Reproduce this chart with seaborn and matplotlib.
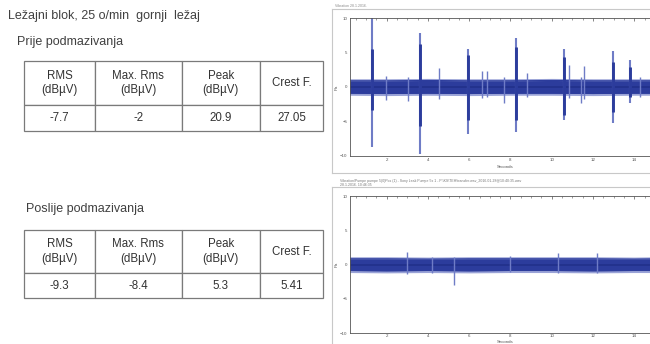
import numpy as np
import pandas as pd
import matplotlib
matplotlib.use('Agg')
import matplotlib.pyplot as plt
import seaborn as sns
from matplotlib.ticker import MultipleLocator

# table data
col_labels = ['RMS\n(dBµV)', 'Max. Rms\n(dBµV)', 'Peak\n(dBµV)', 'Crest F.']
before_vals = ['-7.7', '-2', '20.9', '27.05']
after_vals = ['-9.3', '-8.4', '5.3', '5.41']

# signal before greasing: noise band knots (s, amplitude)
band_t = [0.2, 2, 4, 6, 8, 10, 12, 14, 15.3]
before_band_hi = [0.9, 0.9, 0.95, 0.9, 0.9, 0.95, 0.9, 0.9, 0.9]
before_band_lo = [-0.9, -0.95, -0.9, -0.95, -0.9, -0.9, -0.95, -0.9, -0.9]
# impacts: time, peak max/min, dense core max/min
before_spike_t = [1.29, 3.63, 5.94, 8.28, 10.62, 12.98, 13.78]
before_spike_hi = [10.0, 7.8, 5.6, 7.2, 5.5, 5.3, 3.9]
before_spike_lo = [-8.8, -9.7, -6.9, -6.5, -4.8, -5.2, -2.3]
before_core_hi = [5.6, 6.3, 4.6, 5.8, 4.4, 3.7, 2.9]
before_core_lo = [-3.3, -5.7, -4.8, -4.8, -4.1, -3.6, -1.4]
# small bursts
before_small_t = [1.98, 3.03, 4.53, 6.62, 6.86, 7.71, 8.81, 10.86, 11.4, 11.55, 14.3]
before_small_hi = [1.6, 1.4, 2.7, 2.3, 2.3, 1.4, 2.0, 3.2, 1.5, 3.0, 1.5]
before_small_lo = [-1.9, -2.1, -1.8, -1.6, -1.5, -2.3, -1.4, -1.6, -2.3, -1.8, -1.5]

# signal after greasing
after_band_hi = [0.85, 0.85, 0.8, 0.85, 0.85, 0.85, 0.85, 0.8, 0.85]
after_band_lo = [-0.85, -0.9, -0.85, -0.9, -0.85, -0.85, -0.9, -0.85, -0.85]
after_small_t = [2.97, 5.24, 10.3, 12.2, 8.0, 4.2]
after_small_hi = [1.8, 1.1, 1.7, 1.7, 1.2, 1.1]
after_small_lo = [-1.3, -3.0, -1.2, -1.2, -1.1, -1.2]

W, H = 650, 344
sns.set_theme(style='white')
plt.rcParams['font.family'] = ['Liberation Sans', 'DejaVu Sans']

fig = plt.figure(figsize=(6.5, 3.44), dpi=100)
fig.patch.set_facecolor('white')


def box(x0, y0, x1, y1):
    return [x0 / W, 1 - y1 / H, (x1 - x0) / W, (y1 - y0) / H]


txt = '#404040'
fig.text(8 / W, 1 - 16 / H, 'Ležajni blok, 25 o/min  gornji  ležaj', fontsize=9, color=txt, va='center')
fig.text(17 / W, 1 - 42 / H, 'Prije podmazivanja', fontsize=9, color=txt, va='center')
fig.text(26 / W, 1 - 209 / H, 'Poslije podmazivanja', fontsize=9, color=txt, va='center')

col_w = [70.7, 86.7, 78.3, 63.3]


def draw_table(y0, y1, head_h, vals):
    ax = fig.add_axes(box(24.3, y0, 323.3, y1))
    ax.axis('off')
    tb = ax.table(cellText=[vals], colLabels=col_labels, colWidths=[w / sum(col_w) for w in col_w],
                  cellLoc='center', bbox=[0, 0, 1, 1])
    tb.auto_set_font_size(False)
    data_h = (y1 - y0) - head_h
    for (r, c), cell in tb.get_celld().items():
        cell.set_edgecolor('#7a7a7a')
        cell.set_linewidth(0.9)
        cell.set_height(head_h if r == 0 else data_h)
        cell.get_text().set_fontsize(8.3)
        cell.get_text().set_color('#333333')
        cell.get_text().set_linespacing(1.3)


draw_table(61, 130.7, 44, before_vals)
draw_table(230, 298.3, 43.3, after_vals)

blue = '#2c3c9c'
light = '#6f7cc6'


def draw_signal(ax_box, frame_box, band_hi, band_lo, sp_t, sp_hi, sp_lo, core_hi, core_lo,
                sm_t, sm_hi, sm_lo, xlabel, xpad):
    fr = fig.add_axes(box(*frame_box))
    fr.set_xticks([])
    fr.set_yticks([])
    for s in fr.spines.values():
        s.set_color('#c8c8c8')
        s.set_linewidth(0.8)
    fr.set_facecolor('white')

    ax = fig.add_axes(box(*ax_box))
    ax.set_facecolor('white')
    band = pd.DataFrame({'t': band_t, 'hi': band_hi, 'lo': band_lo})
    # faint fuzzy edge first, dense core on top
    ax.fill_between(band['t'], band['lo'] - 0.3, band['hi'] + 0.3, color=light, alpha=0.7, lw=0)
    ax.fill_between(band['t'], band['lo'], band['hi'], color=blue, lw=0)
    sns.lineplot(data=band, x='t', y='hi', ax=ax, color=blue, lw=0.8)
    sns.lineplot(data=band, x='t', y='lo', ax=ax, color=blue, lw=0.8)
    ax.axhline(0, color='#22308a', lw=1.2)
    ax.vlines(sm_t, sm_lo, sm_hi, color=light, lw=1.0)
    if sp_t:
        ax.vlines(sp_t, sp_lo, sp_hi, color=light, lw=1.5)
        ax.vlines(sp_t, core_lo, core_hi, color=blue, lw=2.1)
    ax.set_xlim(0.22, 15.3)
    ax.set_ylim(-10, 10)
    ax.set_xticks([2, 4, 6, 8, 10, 12, 14])
    ax.set_yticks([-10, -5, 0, 5, 10])
    ax.xaxis.set_minor_locator(MultipleLocator(0.5))
    ax.yaxis.set_minor_locator(MultipleLocator(1))
    ax.tick_params(which='both', direction='in', top=True, right=True, colors='#555555',
                   labelsize=3.2, pad=2)
    ax.tick_params(which='major', length=2.5, width=0.5)
    ax.tick_params(which='minor', length=1.5, width=0.4)
    ax.tick_params(axis='x', pad=xpad)
    for s in ax.spines.values():
        s.set_color('#555555')
        s.set_linewidth(0.6)
    ax.set_ylabel('Pa', fontsize=3.2, color='#555555', labelpad=1)
    ax.set_xlabel(xlabel, fontsize=3.2, color='#555555', labelpad=xpad)
    return ax


draw_signal((350, 18.3, 661, 155.7), (332, 9.3, 700, 173),
            before_band_hi, before_band_lo, before_spike_t, before_spike_hi, before_spike_lo,
            before_core_hi, before_core_lo, before_small_t, before_small_hi, before_small_lo,
            'Seconds', 2)
draw_signal((350, 196, 661, 333.3), (332, 186.7, 700, 360),
            after_band_hi, after_band_lo, [], [], [], [], [], after_small_t, after_small_hi,
            after_small_lo, 'Seconds', 0.8)

fig.text(335 / W, 1 - 6 / H, 'Vibration 28.1.2016.', fontsize=2.5, color='#888888', va='center')
fig.text(340 / W, 1 - 181 / H,
         'Vibration/Pumpe pumpe 5(0)Pos (1) - Sony Leak Pumpe 5x 1 - P:\\KS\\TEH\\transfer.wav_2016-01-28@10:40:35.wav',
         fontsize=2.5, color='#777777', va='center')
fig.text(340 / W, 1 - 185 / H, '28.1.2016. 10:46:35', fontsize=2.5, color='#777777', va='center')

fig.savefig('out.png', dpi=100)
